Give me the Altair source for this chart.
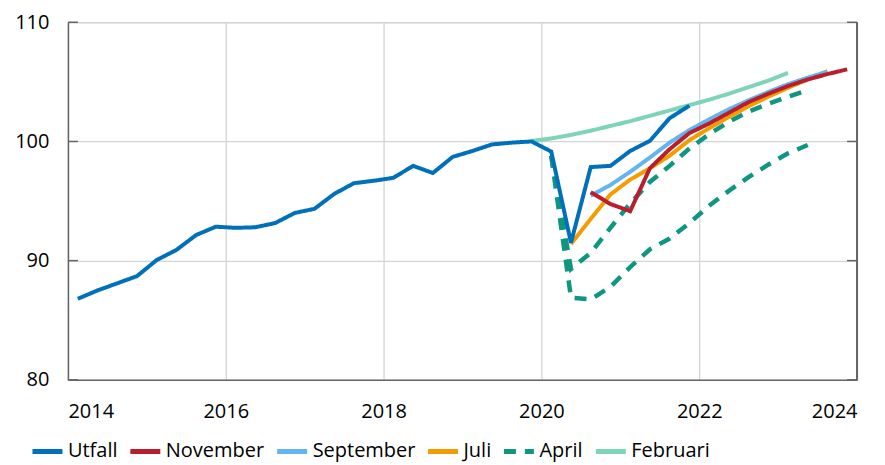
import altair as alt
import pandas as pd

# ---- data (quarterly index values) ----
series_names = ["Utfall", "November", "September", "Juli", "April", "Februari"]
series_colors = ["#0070BA", "#B81E2D", "#62B5F0", "#F49C00", "#0F9681", "#7ED4B8"]

utfall_start = (2014, 1)
utfall = [86.8, 87.5, 88.1, 88.7, 90.05, 90.9, 92.15, 92.85,
          92.75, 92.8, 93.15, 94.0, 94.35, 95.6, 96.5, 96.7,
          96.95, 97.95, 97.35, 98.7, 99.2, 99.75, 99.9, 100.0,
          99.15, 91.5, 97.85, 97.95, 99.2, 100.05, 101.95, 103.0]

februari_start = (2019, 4)
februari = [100.05, 100.25, 100.55, 100.9, 101.3, 101.7, 102.15, 102.6,
            103.05, 103.5, 104.0, 104.55, 105.1, 105.75]

april_start = (2020, 1)
april_high = [98.8, 89.3, 90.65, 92.75, 94.8, 96.6, 97.95, 99.4,
              100.6, 101.65, 102.5, 103.15, 103.75, 104.3]
april_low = [98.8, 86.9, 86.75, 87.8, 89.45, 90.95, 91.85, 93.15,
             94.6, 95.85, 97.0, 98.05, 99.0, 99.7]

juli_start = (2020, 2)
juli = [91.4, 93.5, 95.55, 96.8, 97.75, 98.8, 100.1, 101.1,
        102.05, 102.95, 103.75, 104.5, 105.2, 105.9]

september_start = (2020, 3)
september = [95.45, 96.35, 97.45, 98.65, 99.9, 100.95, 101.85, 102.7,
             103.45, 104.15, 104.8, 105.35, 105.85]

november_start = (2020, 3)
november = [95.75, 94.75, 94.15, 97.75, 99.35, 100.7, 101.5, 102.4,
            103.3, 104.0, 104.65, 105.2, 105.65, 106.05]

x_ticks = [2014, 2016, 2018, 2020, 2022, 2024]
y_ticks = [80, 90, 100, 110]


def rows(name, line_id, start, values):
    year, q = start
    out = []
    for i, v in enumerate(values):
        qi = q - 1 + i
        out.append({"series": name, "line": line_id,
                    "x": year + qi // 4 + ((qi % 4) + 0.5) / 4, "y": v})
    return out


records = []
records += rows("Utfall", "u", utfall_start, utfall)
records += rows("Februari", "f", februari_start, februari)
records += rows("April", "a1", april_start, april_high)
records += rows("April", "a2", april_start, april_low)
records += rows("Juli", "j", juli_start, juli)
records += rows("September", "s", september_start, september)
records += rows("November", "n", november_start, november)
df = pd.DataFrame(records)

W, H = 790, 358
FONT = "Open Sans"

x_enc = alt.X("x:Q", scale=alt.Scale(domain=[2014, 2024], nice=False),
              axis=alt.Axis(values=x_ticks, format="d", title=None, grid=True,
                            gridColor="#d4d4d4", gridWidth=1.3, ticks=False,
                            domainColor="#666666", domainWidth=1.5,
                            labelPadding=22, labelFontSize=20, labelFont=FONT,
                            labelColor="#000000"))
y_enc = alt.Y("y:Q", scale=alt.Scale(domain=[80, 110], nice=False, zero=False),
              axis=alt.Axis(values=y_ticks, title=None, grid=True,
                            gridColor="#d4d4d4", gridWidth=1.3, ticks=False,
                            domainColor="#666666", domainWidth=1.5,
                            labelPadding=19, labelFontSize=20, labelFont=FONT,
                            labelColor="#000000"))

legend_kw = dict(title=None, orient="none", direction="horizontal",
                 legendX=-38, legendY=412,
                 symbolType="stroke", symbolSize=900,
                 symbolStrokeWidth=5, labelFontSize=20,
                 labelFont=FONT, labelColor="#000000",
                 labelOffset=3, columnPadding=2)
color_enc = alt.Color("series:N",
                      scale=alt.Scale(domain=series_names, range=series_colors),
                      legend=alt.Legend(**legend_kw))
dash_enc = alt.StrokeDash("series:N",
                          scale=alt.Scale(domain=series_names,
                                          range=[[1, 0], [1, 0], [1, 0], [1, 0], [12, 9], [1, 0]]),
                          legend=alt.Legend(**legend_kw))

base = alt.Chart(df)
draw_order = ["Februari", "April", "Juli", "September", "November", "Utfall"]
layers = []
for name in draw_order:
    layers.append(
        base.transform_filter(alt.datum.series == name)
        .mark_line(strokeWidth=4.5 if name == "April" else 4)
        .encode(x=x_enc, y=y_enc, color=color_enc, strokeDash=dash_enc, detail="line:N")
    )

tick_df = pd.DataFrame({"y": y_ticks})
y_scale = alt.Scale(domain=[80, 110], nice=False, zero=False)
left_ticks = alt.Chart(tick_df).mark_rule(color="#666666", strokeWidth=1.5).encode(
    y=alt.Y("y:Q", scale=y_scale), x=alt.value(0), x2=alt.value(10))
right_ticks = alt.Chart(tick_df).mark_rule(color="#666666", strokeWidth=1.5).encode(
    y=alt.Y("y:Q", scale=y_scale), x=alt.value(W - 10), x2=alt.value(W))
right_axis = alt.Chart(tick_df).mark_rule(color="#666666", strokeWidth=1.5).encode(
    x=alt.value(W), y=alt.value(0), y2=alt.value(H))

chart = alt.layer(*layers, left_ticks, right_ticks, right_axis).properties(
    width=W, height=H,
    autosize=alt.AutoSizeParams(type="none"),
    padding={"left": 60, "top": 14, "right": 20, "bottom": 85},
).configure_view(stroke=None).configure(font=FONT)

chart.save("out.html", embed_options={"renderer": "svg", "actions": False})
